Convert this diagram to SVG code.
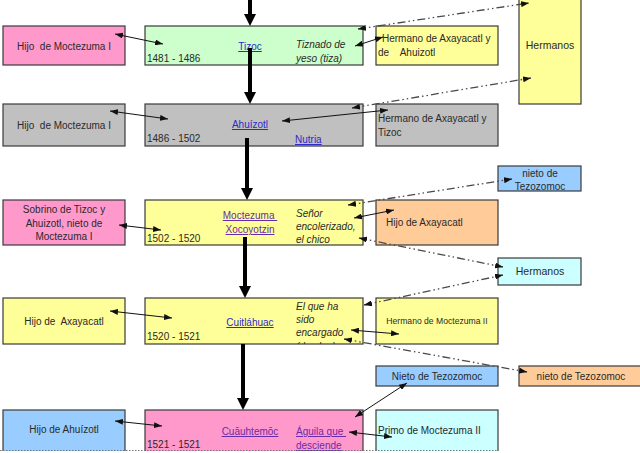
<svg xmlns="http://www.w3.org/2000/svg" width="640" height="453" viewBox="0 0 640 453">
<style>
text{font-family:"Liberation Sans",Arial,sans-serif;font-size:10px;fill:#2a2a2a;white-space:pre}
.b{stroke:#3a3a3a;stroke-width:1.2}
.pink{fill:#FF99CC}.green{fill:#CCFFCC}.yel{fill:#FFFF99}.gray{fill:#C0C0C0}.org{fill:#FFCC99}.blue{fill:#99CCFF}.cyan{fill:#CCFFFF}
.c{text-anchor:middle}
.i{font-style:italic}
.lk{fill:#2B2BC8;text-decoration:underline}
.vl{fill:#6A2BA8;text-decoration:underline}
.thick{stroke:#000;stroke-width:4;fill:none}
.thin{stroke:#111;stroke-width:1;fill:none}
.dd{stroke:#4a4a4a;stroke-width:1.3;fill:none;stroke-dasharray:8 3 1.5 3 1.5 3}
</style>
<defs>
<marker id="big" markerUnits="userSpaceOnUse" markerWidth="12" markerHeight="12" refX="4" refY="6" orient="auto"><path d="M0,0L12,6L0,12z" fill="#000"/></marker>
<marker id="sm" markerUnits="userSpaceOnUse" markerWidth="8" markerHeight="6" refX="8" refY="3" orient="auto-start-reverse"><path d="M0,0L8,3L0,6z" fill="#111"/></marker>
<clipPath id="clip4"><rect x="145" y="298" width="218" height="46"/></clipPath>
</defs>
<rect width="640" height="453" fill="#fff"/>

<g id="row1">
<g id="n-hijo1"><rect class="b pink" x="3" y="26" width="122" height="39"/><text class="c" x="64" y="50">Hijo  de Moctezuma I</text></g>
<g id="n-tizoc"><rect class="b green" x="145" y="26" width="218" height="39"/>
<text class="c lk" x="250" y="50">Tizoc</text><text x="147" y="62">1481 - 1486</text>
<text class="i" x="296" y="48">Tiznado de</text><text class="i" x="296" y="62">yeso (tiza)</text></g>
<g id="n-herm1"><rect class="b yel" x="376" y="26" width="122" height="39"/><text x="382" y="42">Hermano de Axayacatl y</text><text x="378" y="56">de    Ahuizotl</text></g>
<g id="n-hermanos1"><rect class="b yel" x="519" y="-2" width="62" height="106"/><text class="c" x="550" y="49" style="font-size:10.5px">Hermanos</text></g>
</g>

<g id="row2">
<g id="n-hijo2"><rect class="b gray" x="3" y="104" width="122" height="42"/><text class="c" x="64" y="129">Hijo  de Moctezuma I</text></g>
<g id="n-ahuizotl"><rect class="b gray" x="145" y="104" width="218" height="42"/>
<text class="c lk" x="250" y="128">Ahuízotl</text><text x="147" y="142">1486 - 1502</text>
<text class="lk" x="295" y="143">Nutria</text></g>
<g id="n-herm2"><rect class="b gray" x="376" y="104" width="122" height="42"/><text x="378" y="122">Hermano de Axayacatl y</text><text x="378" y="136">Tizoc</text></g>
</g>

<g id="row3">
<g id="n-sobrino"><rect class="b pink" x="3" y="200" width="122" height="45"/>
<text class="c" x="64" y="213">Sobrino de Tizoc y</text><text class="c" x="64" y="227">Ahuizotl, nieto de</text><text class="c" x="64" y="240">Moctezuma I</text></g>
<g id="n-moctezuma"><rect class="b yel" x="145" y="200" width="218" height="45"/>
<text class="c vl" x="250" y="219">Moctezuma </text><text class="c vl" x="250" y="233">Xocoyotzin</text>
<text x="147" y="242">1502 - 1520</text>
<text class="i" x="296" y="217">Señor</text><text class="i" x="296" y="230">encolerizado,</text><text class="i" x="296" y="243">el chico</text></g>
<g id="n-hijoaxa"><rect class="b org" x="376" y="200" width="122" height="45"/><text x="386" y="226">Hijo de Axayacatl</text></g>
<g id="n-nieto1"><rect class="b blue" x="498" y="166" width="83" height="25"/><text class="c" x="540" y="177">nieto de</text><text class="c" x="540" y="190">Tezozomoc</text></g>
</g>

<g id="row4">
<g id="n-hijo4"><rect class="b yel" x="3" y="298" width="122" height="46"/><text class="c" x="64" y="325">Hijo de  Axayacatl</text></g>
<g id="n-cuitlahuac"><rect class="b yel" x="145" y="298" width="218" height="46"/>
<text class="c lk" x="250" y="326">Cuitláhuac</text><text x="147" y="340">1520 - 1521</text>
<g clip-path="url(#clip4)"><text class="i" x="296" y="310">El que ha</text><text class="i" x="296" y="323">sido</text><text class="i" x="296" y="336">encargado</text><text class="i" x="296" y="350">(de algo)</text></g></g>
<g id="n-herm4"><rect class="b yel" x="376" y="298" width="122" height="46"/><text class="c" x="437" y="324" style="font-size:8.6px">Hermano de Moctezuma II</text></g>
<g id="n-hermanos2"><rect class="b cyan" x="498" y="258" width="83" height="27"/><text class="c" x="540" y="275" style="font-size:10.5px">Hermanos</text></g>
</g>

<g id="row5">
<g id="n-hijo5"><rect class="b blue" x="3" y="410" width="122" height="44"/><text class="c" x="64" y="433">Hijo de Ahuízotl</text></g>
<g id="n-cuauhtemoc"><rect class="b pink" x="145" y="410" width="218" height="44"/>
<text class="c vl" x="250" y="435">Cuāuhtemōc</text><text x="147" y="448">1521 - 1521</text>
<text class="vl" x="296" y="435">Águila que </text><text class="vl" x="296" y="449">desciende</text></g>
<g id="n-primo"><rect class="b cyan" x="376" y="410" width="122" height="44"/><text x="378" y="434">Primo de Moctezuma II</text></g>
<g id="n-nieto2"><rect class="b blue" x="376" y="366" width="122" height="20"/><text class="c" x="437" y="380">Nieto de Tezozomoc</text></g>
<g id="n-nieto3"><rect class="b org" x="519" y="366" width="122" height="20"/><text class="c" x="581" y="380">nieto de Tezozomoc</text></g>
</g>

<rect x="0" y="451" width="640" height="2" fill="#fff"/>
<line x1="0" y1="450.5" x2="498" y2="450.5" stroke="#777" stroke-width="1" stroke-dasharray="1.5 1.5"/>

<g id="connectors">
<path class="thick" d="M250,0V18" marker-end="url(#big)"/>
<path class="thick" d="M250,48V96" marker-end="url(#big)"/>
<path class="thick" d="M247,138V192" marker-end="url(#big)"/>
<path class="thick" d="M245,237V290" marker-end="url(#big)"/>
<path class="thick" d="M243,344V402" marker-end="url(#big)"/>

<path class="thin" d="M115,34L163,44" marker-start="url(#sm)" marker-end="url(#sm)"/>
<path class="thin" d="M355,46L383,37" marker-start="url(#sm)" marker-end="url(#sm)"/>
<path class="thin" d="M110,111L168,119" marker-start="url(#sm)" marker-end="url(#sm)"/>
<path class="thin" d="M282,121L388,110" marker-start="url(#sm)" marker-end="url(#sm)"/>
<path class="thin" d="M119,225L161,230" marker-start="url(#sm)" marker-end="url(#sm)"/>
<path class="thin" d="M354,218L394,210" marker-start="url(#sm)" marker-end="url(#sm)"/>
<path class="thin" d="M110,311L172,318" marker-start="url(#sm)" marker-end="url(#sm)"/>
<path class="thin" d="M351,330L399,334" marker-start="url(#sm)" marker-end="url(#sm)"/>
<path class="thin" d="M115,421L162,426" marker-start="url(#sm)" marker-end="url(#sm)"/>
<path class="thin" d="M349,432L392,437" marker-start="url(#sm)" marker-end="url(#sm)"/>
<path class="thin" d="M355,417L407,383" marker-start="url(#sm)" marker-end="url(#sm)"/>

<path class="dd" d="M358,29L529,3" marker-start="url(#sm)" marker-end="url(#sm)"/>
<path class="dd" d="M352,108L531,78" marker-start="url(#sm)" marker-end="url(#sm)"/>
<path class="dd" d="M348,205L512,179" marker-start="url(#sm)" marker-end="url(#sm)"/>
<path class="dd" d="M359,238L503,267" marker-start="url(#sm)" marker-end="url(#sm)"/>
<path class="dd" d="M364,305L503,275" marker-start="url(#sm)" marker-end="url(#sm)"/>
<path class="dd" d="M344,339L527,372" marker-start="url(#sm)" marker-end="url(#sm)"/>
</g>
</svg>
